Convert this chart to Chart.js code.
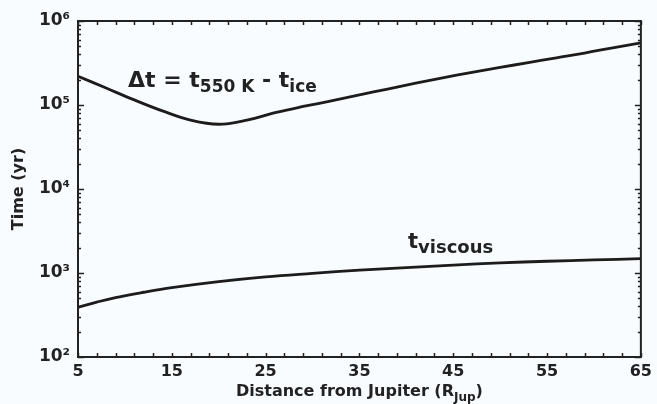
<!DOCTYPE html>
<html>
<head>
<meta charset="utf-8">
<script src="https://cdn.jsdelivr.net/npm/chart.js@4/dist/chart.umd.min.js"></script>
<style>
  html, body { margin: 0; padding: 0; background: #f8fcfe; }
  #wrap { width: 657px; height: 404px; }
</style>
</head>
<body>
<div id="wrap"><canvas id="c" width="657" height="404"></canvas></div>
<script>
// ---- data ----
const distUpper = [5, 8, 11, 14, 17, 20, 23, 26, 29, 32, 35, 38, 41, 44, 47, 50, 53, 56, 59, 62, 65];
const deltaT    = [2.2e5, 1.59e5, 1.15e5, 8.5e4, 6.6e4, 5.9e4, 6.6e4, 8.1e4, 9.6e4, 1.12e5, 1.32e5, 1.55e5, 1.82e5, 2.12e5, 2.45e5, 2.8e5, 3.2e5, 3.65e5, 4.15e5, 4.8e5, 5.5e5];
const distLower = [5, 7, 9, 12, 15, 20, 25, 30, 35, 40, 45, 50, 55, 60, 65];
const tViscous  = [390, 450, 510, 590, 670, 790, 900, 990, 1080, 1160, 1240, 1320, 1380, 1430, 1480];
const xTickValues = [5, 15, 25, 35, 45, 55, 65];
const yTickValues = [1e2, 1e3, 1e4, 1e5, 1e6];
const yTickLabels = ['10²', '10³', '10⁴', '10⁵', '10⁶'];
const yTitle = 'Time (yr)';
const xTitleMain = 'Distance from Jupiter (R';
const xTitleSub = 'Jup';
const xTitleEnd = ')';

const INK = '#222222';
const FONT = "'DejaVu Sans', Verdana, sans-serif";
Chart.defaults.font.family = FONT;
Chart.defaults.color = INK;

const bgPlugin = {
  id: 'bg',
  beforeDraw(chart) {
    const ctx = chart.ctx;
    ctx.save();
    ctx.fillStyle = '#f8fcfe';
    ctx.fillRect(0, 0, chart.width, chart.height);
    ctx.restore();
  }
};

const framePlugin = {
  id: 'frame',
  afterDraw(chart) {
    const ctx = chart.ctx;
    const { left, right, top, bottom } = chart.chartArea;
    const xs = chart.scales.x, ys = chart.scales.y;
    ctx.save();
    ctx.strokeStyle = INK;
    ctx.lineWidth = 1.5;
    ctx.beginPath();
    for (let v = xs.min; v <= xs.max + 1e-9; v += 2) {
      const px = Math.round(xs.getPixelForValue(v)) + 0.5;
      ctx.moveTo(px, bottom); ctx.lineTo(px, bottom - 4);
      ctx.moveTo(px, top); ctx.lineTo(px, top + 4);
    }
    for (let e = 2; e <= 6; e++) {
      for (let m = 1; m <= 9; m++) {
        const v = m * Math.pow(10, e);
        if (v > ys.max * 1.0001) break;
        const py = Math.round(ys.getPixelForValue(v)) + 0.5;
        const len = m === 1 ? 6 : 3;
        ctx.moveTo(left, py); ctx.lineTo(left + len, py);
        ctx.moveTo(right, py); ctx.lineTo(right - len, py);
      }
    }
    ctx.stroke();
    ctx.lineWidth = 2;
    ctx.strokeRect(left, top, right - left, bottom - top);

    // x title with subscript
    ctx.fillStyle = INK;
    ctx.textBaseline = 'alphabetic';
    const fMain = 'bold 16px ' + FONT, fSub = 'bold 12px ' + FONT;
    ctx.font = fMain; const w1 = ctx.measureText(xTitleMain).width; const w3 = ctx.measureText(xTitleEnd).width;
    ctx.font = fSub; const w2 = ctx.measureText(xTitleSub).width;
    const cx = (left + right) / 2;
    const x0 = cx - (w1 + w2 + w3) / 2;
    const base = 396;
    ctx.font = fMain; ctx.textAlign = 'left'; ctx.fillText(xTitleMain, x0, base);
    ctx.font = fSub; ctx.fillText(xTitleSub, x0 + w1, base + 5);
    ctx.font = fMain; ctx.fillText(xTitleEnd, x0 + w1 + w2, base);

    function rich(parts, x, y) {
      let cur = x;
      for (const p of parts) {
        ctx.font = 'bold ' + p.size + 'px ' + FONT;
        ctx.fillText(p.t, cur, y + (p.dy || 0));
        cur += ctx.measureText(p.t).width;
      }
    }
    rich([
      { t: 'Δt = t', size: 22 },
      { t: '550 K', size: 17, dy: 5 },
      { t: ' - t', size: 22 },
      { t: 'ice', size: 17, dy: 5 }
    ], 128, 87);
    rich([
      { t: 't', size: 21 },
      { t: 'viscous', size: 18, dy: 5 }
    ], 408, 248);
    ctx.restore();
  }
};

new Chart(document.getElementById('c'), {
  type: 'line',
  data: {
    datasets: [
      {
        label: 'Δt = t550 K - tice',
        data: distUpper.map((x, i) => ({ x, y: deltaT[i] })),
        borderColor: '#1c1c1c', borderWidth: 2.8, pointRadius: 0,
        tension: 0.4, fill: false
      },
      {
        label: 'tviscous',
        data: distLower.map((x, i) => ({ x, y: tViscous[i] })),
        borderColor: '#1c1c1c', borderWidth: 2.8, pointRadius: 0,
        tension: 0.4, fill: false
      }
    ]
  },
  options: {
    responsive: false,
    animation: false,
    layout: { padding: { top: 21, right: 13, left: 0, bottom: 0 } },
    plugins: { legend: { display: false }, tooltip: { enabled: false } },
    scales: {
      x: {
        type: 'linear', min: 5, max: 65,
        grid: { display: false, drawTicks: false },
        border: { display: false },
        afterBuildTicks: s => { s.ticks = xTickValues.map(v => ({ value: v })); },
        afterFit: s => { s.height = 47; },
        ticks: { padding: 5, color: INK, font: { size: 16, weight: 'bold' }, maxRotation: 0, autoSkip: false,
                 callback: v => String(v) }
      },
      y: {
        type: 'logarithmic', min: 100, max: 1e6,
        grid: { display: false, drawTicks: false },
        border: { display: false },
        afterBuildTicks: s => { s.ticks = yTickValues.map(v => ({ value: v })); },
        afterFit: s => { s.width = 78; },
        ticks: { padding: 8, color: INK, font: { size: 17, weight: 'bold' }, autoSkip: false,
                 callback: v => { const i = yTickValues.indexOf(v); return i >= 0 ? yTickLabels[i] : ''; } },
        title: { display: true, text: yTitle, color: INK, font: { size: 16, weight: 'bold' }, padding: { top: 9, bottom: 0 } }
      }
    }
  },
  plugins: [bgPlugin, framePlugin]
});
</script>
</body>
</html>
